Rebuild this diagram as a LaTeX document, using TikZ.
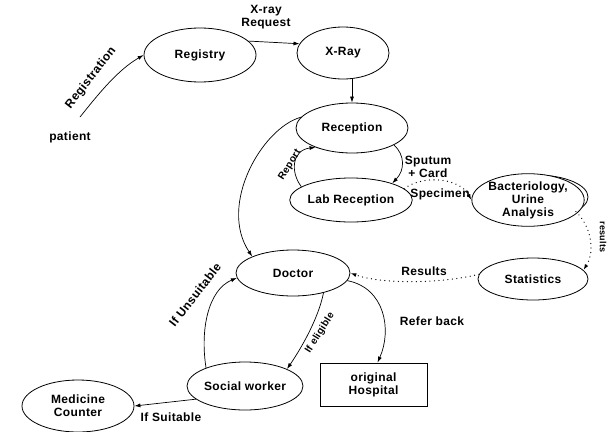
\documentclass[tikz,border=0pt]{standalone}
\usepackage{fontspec}
\setmainfont[LetterSpace=3]{Liberation Sans}
\usetikzlibrary{shapes.geometric,arrows.meta}
\begin{document}
\begin{tikzpicture}[x=1pt,y=-1pt,
  every node/.style={font=\fontsize{12}{13}\selectfont\bfseries},
  ell/.style={draw,ellipse,fill=white,inner sep=0pt,line width=0.8pt},
  conn/.style={line width=0.7pt,-{Latex[length=6pt,width=4pt]}},
  dotconn/.style={conn,line width=1.3pt,line cap=round,dash pattern=on 0.01pt off 4.5pt},
  small/.style={font=\fontsize{10}{11}\selectfont\bfseries}]
\useasboundingbox (0,0) rectangle (609,431);
% nodes
\node[ell,minimum width=112pt,minimum height=54pt] (reg) at (200,55) {Registry};
\node[ell,minimum width=92pt,minimum height=52pt] (xray) at (343,53) {X-Ray};
\node[ell,minimum width=112pt,minimum height=50pt] (rec) at (352,128) {Reception};
\node[ell,minimum width=114pt,minimum height=44pt] (lab) at (351,200) {Lab Reception};
\node[ell,minimum width=104pt,minimum height=44pt] (bactb) at (536,197) {};
\node[font=\fontsize{12}{13}\selectfont\bfseries] (ee) at (581,197) {e};
\node[ell,minimum width=100pt,minimum height=46pt,align=center] (bact) at (528,200) {Bacteriology,\\Urine\\Analysis};
\node[ell,minimum width=110pt,minimum height=42pt] (stat) at (533,279) {Statistics};
\node[ell,minimum width=114pt,minimum height=46pt] (doc) at (293,273) {Doctor};
\node[ell,minimum width=110pt,minimum height=48pt] (sw) at (245,386) {Social worker};
\node[draw,line width=0.8pt,minimum width=107pt,minimum height=43pt,align=center,inner sep=0pt] (hosp) at (373.5,384.5) {original\\Hospital};
\node[ell,minimum width=112pt,minimum height=52pt,align=center] (med) at (78,406) {Medicine\\Counter};
\node (patient) at (70,137) {patient};
\coordinate (pstart) at (80,117);
% connectors
\draw[conn] (pstart) .. controls (100,92) and (118,70) .. (reg.west);
\node[rotate=52] (lreg) at (91,78) {Registration};
\draw[conn] (reg.16) -- (xray.168);
\node[align=center] (lxr) at (266,17) {X-ray\\Request};
\draw[conn] (xray.south -| rec.north) -- (rec.north);
\draw[conn] (rec.168) .. controls (262,128) and (218,205) .. (doc.158);
\draw[conn] (lab.165) .. controls (290,172) and (292,150) .. (rec.208);
\node[small,rotate=58] (lrep) at (290,165) {Report};
\draw[conn] (rec.-22) .. controls (405,155) and (405,170) .. (lab.22);
\node[align=center] (lsp) at (428,167) {Sputum\\+ Card};
\draw[dotconn] (lab.12) .. controls (420,176) and (458,176) .. (bact.west);
\node (lspec) at (440,194) {Specimen};
\draw[dotconn] (bactb.-20) .. controls (590,225) and (596,250) .. (stat.10);
\node[font=\fontsize{9}{10}\selectfont\bfseries,rotate=-90] (lres) at (603,237) {results};
\draw[dotconn] (stat.175) .. controls (440,284) and (380,284) .. (doc.east);
\node (lres2) at (424,271) {Results};
\draw[conn] (doc.-8) .. controls (385,288) and (392,330) .. ([xshift=4pt]hosp.north);
\node (lrb) at (432,321) {Refer back};
\draw[conn] (doc.-33) .. controls (318,320) and (300,350) .. (sw.22);
\node[small,rotate=58] (lel) at (320,333) {If eligible};
\draw[conn] (sw.155) .. controls (200,330) and (208,290) .. (doc.185);
\node[rotate=52] (lun) at (195,295) {If Unsuitable};
\draw[conn] (sw.195) -- (med.east);
\node (lsu) at (171,417) {If Suitable};
\end{tikzpicture}
\end{document}
